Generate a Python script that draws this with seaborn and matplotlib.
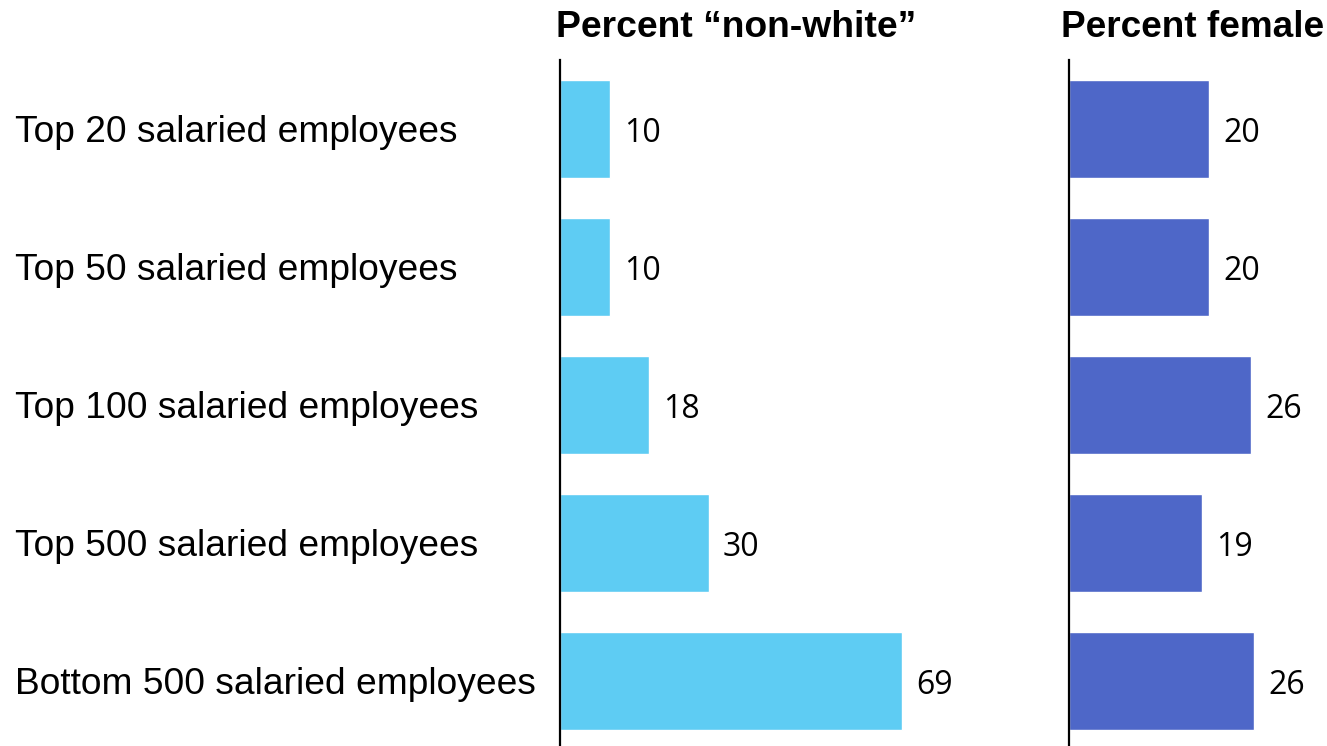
import matplotlib
matplotlib.use("Agg")
import matplotlib.pyplot as plt
import matplotlib.transforms as mtransforms
import seaborn as sns
import pandas as pd

categories = [
    "Top 20 salaried employees",
    "Top 50 salaried employees",
    "Top 100 salaried employees",
    "Top 500 salaried employees",
    "Bottom 500 salaried employees",
]
pct_nonwhite = [10, 10, 18, 30, 69]
pct_female = [20, 20, 26, 19, 26.4]
titles = ["Percent \u201cnon-white\u201d", "Percent female"]

sns.set_theme(style="white")
plt.rcParams["font.family"] = ["Liberation Sans", "DejaVu Sans"]

W, H = 1327, 746
fig = plt.figure(figsize=(W / 100, H / 100), dpi=100)

def fx(px):
    return px / W

def fy(py):
    return 1 - py / H

top_px, bot_px = 60, 746
ax1 = fig.add_axes([fx(560), fy(bot_px), fx(960 - 560), (bot_px - top_px) / H])
ax2 = fig.add_axes([fx(1069), fy(bot_px), fx(1327 - 1069), (bot_px - top_px) / H])

df1 = pd.DataFrame({"cat": categories, "val": pct_nonwhite})
df2 = pd.DataFrame({"cat": categories, "val": pct_female})

sns.barplot(data=df1, x="val", y="cat", orient="h", color="#5ECCF3",
            saturation=1, width=0.705, ax=ax1)
sns.barplot(data=df2, x="val", y="cat", orient="h", color="#4E67C8",
            saturation=1, width=0.705, ax=ax2)

ax1.set_xlim(0, 400 / 4.95)
ax2.set_xlim(0, 258 / 7.0)
ylim_bottom = -0.5 + (bot_px - top_px) / 138.0
for ax, vals in ((ax1, pct_nonwhite), (ax2, pct_female)):
    ax.set_ylim(ylim_bottom, -0.5)
    ax.set_xlabel("")
    ax.set_ylabel("")
    ax.set_xticks([])
    ax.set_yticks([])
    for s in ("top", "right", "bottom"):
        ax.spines[s].set_visible(False)
    ax.spines["left"].set_color("black")
    ax.spines["left"].set_linewidth(1.6)
    for i, v in enumerate(vals):
        ax.annotate(f"{round(v):d}", xy=(v, i), xytext=(10.4, 0),
                    textcoords="offset points", ha="left", va="center_baseline",
                    fontsize=23, family=["Open Sans", "DejaVu Sans"], color="black")

# category labels
trans = mtransforms.blended_transform_factory(fig.transFigure, ax1.transData)
for i, c in enumerate(categories):
    ax1.text(fx(15), i, c, transform=trans, ha="left", va="center_baseline",
             fontsize=26.7, color="black", clip_on=False)

fig.text(fx(556), fy(37), titles[0], ha="left", va="baseline",
         fontsize=26.8, fontweight="bold", color="black")
fig.text(fx(1061), fy(37), titles[1], ha="left", va="baseline",
         fontsize=26.6, fontweight="bold", color="black")

fig.savefig("out.png", dpi=100, facecolor="white")
